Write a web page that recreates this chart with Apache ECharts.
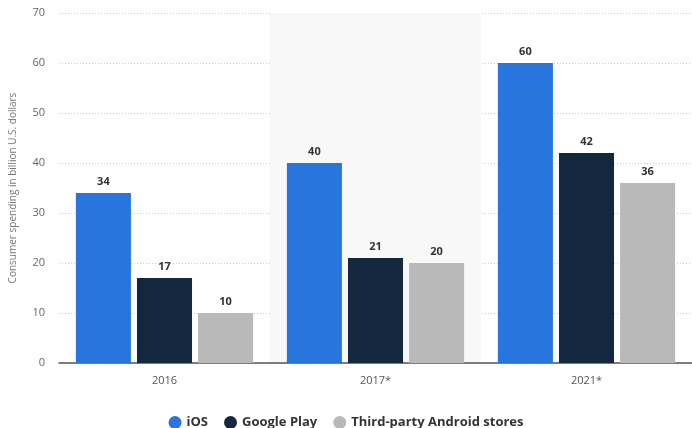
<!DOCTYPE html>
<html><head><meta charset="utf-8">
<script src="https://cdn.jsdelivr.net/npm/echarts@6/dist/echarts.min.js"></script>
<style>html,body{margin:0;padding:0;background:#fff}#c{width:692px;height:428px}</style>
</head><body><div id="c"></div>
<script>
const categories = ['2016', '2017*', '2021*'];
const iosValues = [34, 40, 60];
const googlePlayValues = [17, 21, 42];
const thirdPartyValues = [10, 20, 36];
const seriesNames = ['iOS', 'Google Play', 'Third-party Android stores'];
const yTicks = [0, 10, 20, 30, 40, 50, 60, 70];

const colors = ['#2876dd', '#13273f', '#b9b9b9'];
const font = '"Open Sans", "DejaVu Sans", sans-serif';
const chart = echarts.init(document.getElementById('c'));
const lbl = {show: true, position: 'top', color: '#333', fontWeight: 'bold', fontSize: 11, fontFamily: font, distance: 6};
chart.setOption({
  animation: false,
  color: colors,
  grid: {left: 57, right: 0, top: 13, bottom: 65},
  legend: {bottom: -6, icon: 'circle', itemWidth: 13, itemHeight: 13, itemGap: 16,
    textStyle: {color: '#333', fontWeight: 'bold', fontSize: 13, fontFamily: font},
    data: seriesNames},
  xAxis: {type: 'category', data: categories,
    axisLine: {lineStyle: {color: '#555', width: 1.5}}, axisTick: {show: false},
    axisLabel: {color: '#555', fontSize: 11, fontFamily: font, margin: 12},
    splitArea: {show: true, areaStyle: {color: ['rgba(0,0,0,0)', '#f8f8f8']}}},
  yAxis: {type: 'value', min: yTicks[0], max: yTicks[yTicks.length - 1], interval: 10,
    name: 'Consumer spending in billion U.S. dollars', nameLocation: 'middle', nameGap: 41,
    nameTextStyle: {color: '#777', fontSize: 10, fontFamily: font},
    axisLine: {show: false}, axisTick: {show: false},
    axisLabel: {color: '#666', fontSize: 11, fontFamily: font, margin: 14},
    splitLine: {lineStyle: {color: '#ccc', type: [1, 2], width: 1}}},
  series: [
    {name: seriesNames[0], type: 'bar', data: iosValues, label: lbl, barGap: '11%', barCategoryGap: '16%'},
    {name: seriesNames[1], type: 'bar', data: googlePlayValues, label: lbl},
    {name: seriesNames[2], type: 'bar', data: thirdPartyValues, label: lbl}
  ]
});
</script></body></html>
